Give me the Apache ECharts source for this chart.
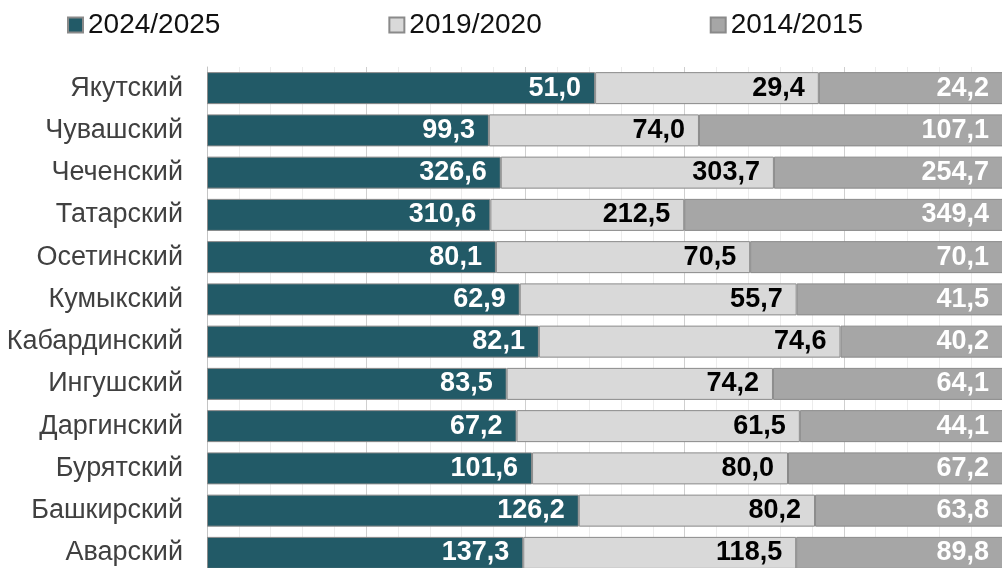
<!DOCTYPE html>
<html>
<head>
<meta charset="utf-8">
<script src="https://cdn.jsdelivr.net/npm/echarts@6/dist/echarts.min.js"></script>
<style>
  html, body { margin: 0; padding: 0; background: #fff; overflow: hidden; }
  #chart { width: 1003px; height: 574px; }
</style>
</head>
<body>
<div id="chart"></div>
<script>
// categories top to bottom
var languages = ["Якутский", "Чувашский", "Чеченский", "Татарский", "Осетинский", "Кумыкский",
  "Кабардинский", "Ингушский", "Даргинский", "Бурятский", "Башкирский", "Аварский"];
var y2024 = [51.0, 99.3, 326.6, 310.6, 80.1, 62.9, 82.1, 83.5, 67.2, 101.6, 126.2, 137.3];
var y2019 = [29.4, 74.0, 303.7, 212.5, 70.5, 55.7, 74.6, 74.2, 61.5, 80.0, 80.2, 118.5];
var y2014 = [24.2, 107.1, 254.7, 349.4, 70.1, 41.5, 40.2, 64.1, 44.1, 67.2, 63.8, 89.8];
var seriesNames = ["2024/2025", "2019/2020", "2014/2015"];

var font = "'Liberation Sans', Arial, sans-serif";
var raw = [y2024, y2019, y2014];
var totals = languages.map(function (_, i) { return y2024[i] + y2019[i] + y2014[i]; });
function share(arr) {
  return arr.map(function (v, i) { return v / totals[i] * 100; });
}
function fmt(v) { return v.toFixed(1).replace(".", ","); }

var colors = ["#225a67", "#d9d9d9", "#a6a6a6"];
var labelColors = ["#ffffff", "#000000", "#ffffff"];

var series = raw.map(function (arr, k) {
  return {
    name: seriesNames[k],
    type: "bar",
    stack: "total",
    barWidth: 32,
    data: share(arr),
    itemStyle: { color: colors[k], borderColor: "#8a8a8a", borderWidth: 1 },
    label: {
      show: true,
      position: "insideRight",
      distance: 14,
      color: labelColors[k],
      fontFamily: font,
      fontWeight: "bold",
      fontSize: 27,
      formatter: function (p) { return fmt(arr[p.dataIndex]); }
    },
    emphasis: { disabled: true }
  };
});

var myChart = echarts.init(document.getElementById("chart"));
var option = {
  animation: false,
  legend: {
    left: 67,
    top: 11,
    padding: 0,
    itemGap: 168,
    itemWidth: 15,
    itemHeight: 15,
    icon: "rect",
    textStyle: { fontFamily: font, fontSize: 28, color: "#111111" },
    data: seriesNames
  },
  // plot area runs a few pixels past the right and bottom edges of the window
  grid: { left: 207, top: 67, right: 0, bottom: 0 },
  xAxis: {
    type: "value",
    min: 0,
    max: 100,
    interval: 4,
    axisLabel: { show: false },
    axisLine: { show: false },
    axisTick: { show: false },
    splitLine: {
      show: true,
      lineStyle: { color: ["#cfcfcf", "#ececec", "#ececec", "#ececec", "#ececec"], width: 1 }
    }
  },
  yAxis: {
    type: "category",
    inverse: true,
    data: languages,
    axisLine: { show: true, lineStyle: { color: "#c4c4c4", width: 1 } },
    axisTick: { show: false },
    axisLabel: { fontFamily: font, fontSize: 27, color: "#404040", margin: 24 }
  },
  series: series
};
myChart.setOption(option);
</script>
</body>
</html>
